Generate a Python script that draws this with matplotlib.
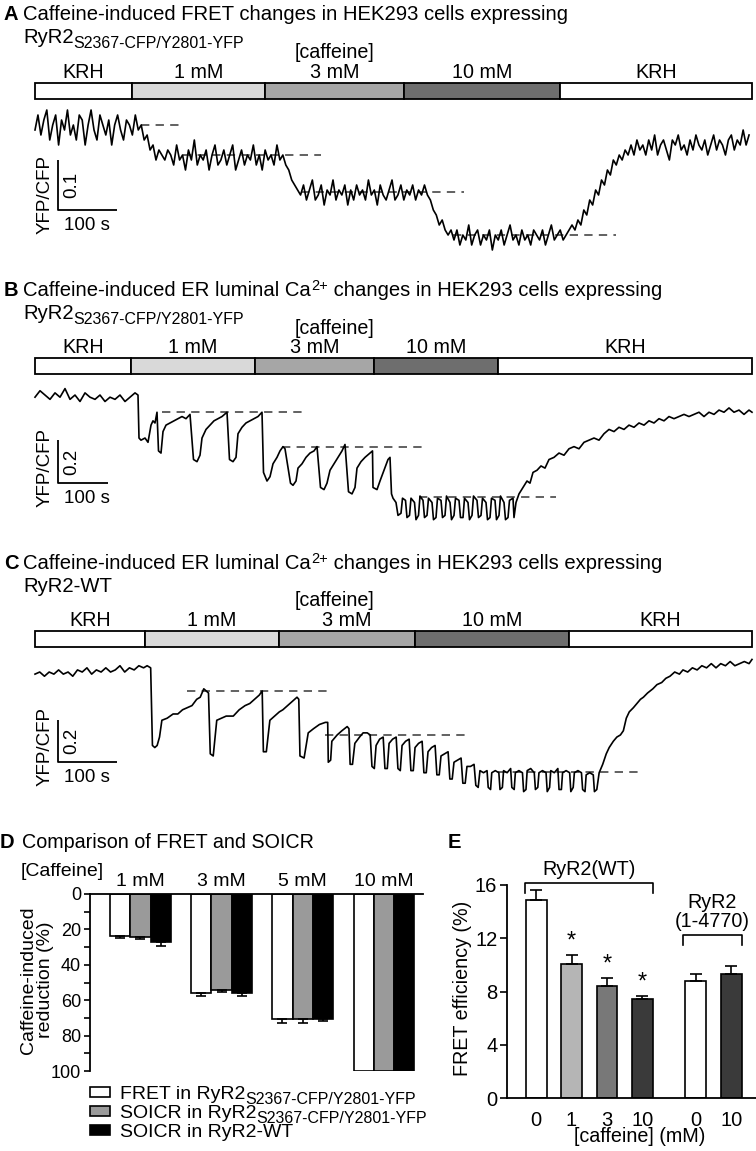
import numpy as np
import matplotlib
matplotlib.use("Agg")
import matplotlib.pyplot as plt
from matplotlib.patches import Rectangle

plt.rcParams["font.family"] = ["Liberation Sans", "DejaVu Sans"]
plt.rcParams["lines.scale_dashes"] = False

# ── Solution bars (time in s, boundaries of each solution) ───────────────
sol_labels = ["KRH", "1 mM", "3 mM", "10 mM", "KRH"]
sol_colors = ["white", "#d9d9d9", "#a6a6a6", "#6e6e6e", "white"]
a_edges = [0, 164, 390, 625, 890, 1215]
b_edges = [0, 192, 440, 678, 926, 1434]
c_edges = [0, 186, 414, 644, 905, 1215]

# ── Panel A: FRET trace (YFP/CFP, one point every 5 s) ──────────────────
A_STEP = 5
a_ratio = [
    # KRH
    1.49, 1.52, 1.48, 1.51, 1.53, 1.47, 1.50, 1.52, 1.46, 1.51, 1.49, 1.53,
    1.48, 1.50, 1.47, 1.52, 1.51, 1.46, 1.50, 1.53, 1.49, 1.47, 1.52, 1.50,
    1.48, 1.51, 1.46, 1.50, 1.52, 1.49, 1.47, 1.51, 1.50, 1.48, 1.52, 1.49,
    1.50, 1.47, 1.48, 1.45, 1.46, 1.43, 1.45, 1.44,
    # 1 mM
    1.43, 1.45, 1.44, 1.42, 1.46, 1.43, 1.44, 1.41, 1.45, 1.43, 1.47, 1.42,
    1.44, 1.43, 1.45, 1.41, 1.44, 1.46, 1.42, 1.43, 1.45, 1.42, 1.44, 1.46,
    1.41, 1.43, 1.45, 1.42, 1.44, 1.43, 1.46, 1.42, 1.44, 1.41, 1.45, 1.43,
    1.44, 1.42, 1.46, 1.43, 1.44, 1.42,
    1.41, 1.39, 1.38, 1.37,
    # 3 mM
    1.36, 1.38, 1.35, 1.37, 1.39, 1.35, 1.36, 1.38, 1.34, 1.37, 1.36, 1.39,
    1.35, 1.37, 1.36, 1.38, 1.34, 1.37, 1.35, 1.38, 1.36, 1.37, 1.35, 1.39,
    1.36, 1.37, 1.34, 1.38, 1.36, 1.35, 1.37, 1.39, 1.35, 1.36, 1.38, 1.35,
    1.37, 1.36, 1.38, 1.35, 1.37, 1.36, 1.38, 1.36,
    1.35, 1.33, 1.32, 1.30, 1.31, 1.29, 1.28, 1.29,
    # 10 mM
    1.27, 1.29, 1.26, 1.28, 1.27, 1.30, 1.26, 1.28, 1.29, 1.26, 1.28, 1.27,
    1.29, 1.25, 1.28, 1.27, 1.29, 1.26, 1.28, 1.30, 1.27, 1.28, 1.26, 1.29,
    1.27, 1.28, 1.26, 1.29, 1.28, 1.27, 1.29, 1.26, 1.28, 1.30, 1.27, 1.28,
    1.29, 1.27, 1.28, 1.29,
    # washout
    1.30, 1.29, 1.31, 1.30, 1.33, 1.32, 1.35, 1.34, 1.37, 1.36, 1.39, 1.38,
    1.41, 1.40, 1.43, 1.42, 1.44, 1.43, 1.45, 1.44, 1.46, 1.44, 1.47, 1.45,
    1.46, 1.44, 1.47, 1.45, 1.48, 1.44, 1.46, 1.47, 1.45, 1.43, 1.47, 1.46,
    1.48, 1.45, 1.46, 1.44, 1.47, 1.45, 1.48, 1.46, 1.45, 1.47, 1.44, 1.46,
    1.48, 1.45, 1.47, 1.46, 1.44, 1.47, 1.48, 1.45, 1.47, 1.46, 1.49, 1.46,
    1.48,
]
a_levels = [1.50, 1.44, 1.365, 1.28]
a_spans = [(180, 250), (250, 485), (450, 727), (708, 985)]

# ── Panel B: ER luminal Ca2+ trace, RyR2 S2367-CFP/Y2801-YFP ────────────
b_trace = [
    (0, 1.19), (10, 1.22), (20, 1.20), (30, 1.18), (40, 1.21), (50, 1.19),
    (60, 1.23), (70, 1.18), (80, 1.20), (90, 1.17), (100, 1.21), (110, 1.19),
    (120, 1.18), (130, 1.20), (140, 1.17), (150, 1.19), (160, 1.18),
    (170, 1.20), (180, 1.17), (190, 1.19), (200, 1.21), (206, 1.20),
    (208, 1.00), (212, 0.99), (220, 1.00), (226, 0.98), (232, 1.06),
    (236, 1.08), (240, 1.07), (244, 1.12),
    (247, 0.94), (252, 0.93), (256, 1.03), (262, 1.06), (270, 1.07),
    (278, 1.08), (286, 1.09), (294, 1.10), (302, 1.09), (310, 1.11),
    (317, 0.90), (324, 0.89), (330, 0.92), (334, 1.00), (342, 1.04),
    (350, 1.06), (358, 1.08), (366, 1.09), (374, 1.10), (384, 1.12),
    (389, 0.90), (396, 0.89), (402, 0.91), (406, 1.02), (414, 1.05),
    (422, 1.07), (430, 1.08), (438, 1.09), (446, 1.10), (454, 1.12),
    (457, 0.84), (464, 0.80), (470, 0.82), (476, 0.88), (484, 0.91),
    (490, 0.94), (496, 0.96), (500, 0.95),
    (511, 0.79), (516, 0.78), (522, 0.80), (526, 0.86), (534, 0.88),
    (542, 0.91), (550, 0.93), (558, 0.94), (564, 0.96),
    (571, 0.77), (578, 0.76), (584, 0.79), (590, 0.85), (598, 0.88),
    (606, 0.91), (614, 0.94), (620, 0.97),
    (627, 0.75), (634, 0.74), (640, 0.77), (644, 0.86), (652, 0.89),
    (660, 0.91), (670, 0.93), (675, 0.94),
    (676, 0.77), (684, 0.76), (690, 0.80), (698, 0.85), (706, 0.90),
    (710, 0.91),
    (713, 0.74), (716, 0.72), (722, 0.70), (726, 0.64), (732, 0.65),
    (735, 0.72), (741, 0.71), (744, 0.63), (749, 0.64), (752, 0.72),
    (759, 0.70), (762, 0.62), (767, 0.64), (770, 0.73), (776, 0.71),
    (779, 0.63), (784, 0.64), (787, 0.72), (794, 0.70), (797, 0.62),
    (802, 0.63), (805, 0.72), (812, 0.71), (815, 0.63), (820, 0.64),
    (823, 0.73), (830, 0.70), (833, 0.62), (838, 0.64), (841, 0.72),
    (848, 0.71), (851, 0.63), (856, 0.63), (859, 0.72), (866, 0.70),
    (869, 0.62), (874, 0.64), (877, 0.73), (884, 0.71), (887, 0.63),
    (892, 0.64), (895, 0.72), (902, 0.70), (905, 0.62), (910, 0.63),
    (913, 0.72), (920, 0.71), (923, 0.62), (928, 0.64), (931, 0.73),
    (938, 0.70), (941, 0.62), (946, 0.63), (949, 0.71), (956, 0.72),
    (958, 0.63), (962, 0.70),
    (968, 0.74), (976, 0.77), (984, 0.80), (990, 0.79), (996, 0.84),
    (1004, 0.85), (1012, 0.87), (1020, 0.86), (1028, 0.90), (1038, 0.91),
    (1048, 0.93), (1058, 0.92), (1068, 0.95), (1078, 0.96), (1088, 0.95),
    (1098, 0.98), (1108, 0.99), (1118, 1.00), (1128, 0.99), (1138, 1.02),
    (1148, 1.04), (1158, 1.03), (1168, 1.05), (1178, 1.04), (1188, 1.06),
    (1198, 1.05), (1208, 1.07), (1218, 1.06), (1228, 1.08), (1238, 1.07),
    (1248, 1.09), (1258, 1.08), (1268, 1.10), (1278, 1.09), (1288, 1.10),
    (1298, 1.11), (1308, 1.10), (1318, 1.11), (1328, 1.12), (1338, 1.10),
    (1348, 1.12), (1358, 1.11), (1368, 1.13), (1378, 1.12), (1388, 1.14),
    (1398, 1.12), (1408, 1.13), (1418, 1.11), (1428, 1.13), (1434, 1.12),
]
b_levels = [1.12, 0.958, 0.726]
b_spans = [(254, 536), (494, 776), (768, 1042)]

# ── Panel C: ER luminal Ca2+ trace, RyR2-WT ─────────────────────────────
c_trace = [
    (0, 1.29), (8, 1.30), (16, 1.28), (24, 1.30), (32, 1.29), (40, 1.31),
    (48, 1.29), (56, 1.30), (64, 1.28), (72, 1.31), (80, 1.30), (88, 1.32),
    (96, 1.29), (104, 1.31), (112, 1.30), (120, 1.32), (128, 1.30),
    (136, 1.31), (144, 1.33), (152, 1.30), (160, 1.32), (168, 1.31),
    (176, 1.33), (184, 1.32), (190, 1.33), (196, 1.32),
    (199, 0.95), (203, 0.94), (207, 0.95), (211, 0.99), (215, 1.07),
    (224, 1.08), (234, 1.10), (242, 1.10), (250, 1.12), (258, 1.13),
    (266, 1.14), (274, 1.17), (280, 1.18), (286, 1.22), (290, 1.21),
    (294, 1.20),
    (297, 0.91), (302, 0.90), (308, 1.07), (316, 1.08), (324, 1.09),
    (336, 1.09), (346, 1.12), (356, 1.14), (364, 1.15), (372, 1.17),
    (380, 1.19), (385, 1.21),
    (387, 0.92), (392, 0.92), (398, 1.07), (406, 1.09), (414, 1.11),
    (420, 1.12), (428, 1.14), (436, 1.16), (444, 1.18), (447, 1.17),
    (449, 0.90), (456, 0.89), (463, 1.01), (472, 1.03), (482, 1.05),
    (492, 1.06), (496, 1.06),
    (497, 0.87), (501, 0.88), (503, 0.97), (512, 1.00), (520, 1.02),
    (529, 1.04), (532, 1.03),
    (534, 0.86), (538, 0.86), (542, 0.96), (550, 0.99), (556, 1.01),
    (563, 1.01), (568, 1.00),
    (571, 0.85), (575, 0.84), (578, 0.95), (584, 0.98), (590, 0.99),
    (593, 0.84), (597, 0.84), (600, 0.96), (606, 0.98), (612, 0.99),
    (615, 0.84), (619, 0.83), (622, 0.95), (628, 0.97), (634, 0.98),
    (637, 0.83), (641, 0.83), (644, 0.94), (650, 0.96), (656, 0.97),
    (659, 0.82), (663, 0.82), (666, 0.92), (672, 0.94), (678, 0.95),
    (681, 0.81), (685, 0.81), (688, 0.90), (694, 0.91), (700, 0.92),
    (703, 0.79), (707, 0.79), (710, 0.87), (716, 0.88), (722, 0.89),
    (725, 0.77), (729, 0.77), (732, 0.85), (738, 0.85), (744, 0.86),
    (747, 0.76), (751, 0.75),
    (754, 0.83), (760, 0.82), (766, 0.83), (768, 0.75), (772, 0.74),
    (774, 0.82), (780, 0.83), (786, 0.82), (788, 0.74), (792, 0.75),
    (794, 0.83), (800, 0.82), (806, 0.84), (808, 0.75), (812, 0.74),
    (814, 0.82), (820, 0.83), (826, 0.82), (828, 0.73), (832, 0.74),
    (834, 0.83), (840, 0.84), (846, 0.82), (848, 0.74), (852, 0.75),
    (854, 0.82), (860, 0.83), (866, 0.82), (868, 0.73), (872, 0.75),
    (874, 0.83), (880, 0.82), (886, 0.84), (888, 0.74), (892, 0.74),
    (894, 0.82), (900, 0.83), (906, 0.82), (908, 0.73), (912, 0.75),
    (914, 0.82), (920, 0.83), (926, 0.82), (928, 0.74), (932, 0.73),
    (934, 0.81), (940, 0.82), (946, 0.81), (948, 0.73), (952, 0.74),
    (956, 0.82),
    (962, 0.86), (968, 0.91), (973, 0.94), (980, 0.97), (986, 0.99),
    (992, 1.00), (997, 1.02), (1002, 1.08), (1007, 1.11), (1014, 1.13),
    (1020, 1.15), (1026, 1.17), (1031, 1.18), (1038, 1.20), (1047, 1.22),
    (1054, 1.24), (1062, 1.25), (1069, 1.27), (1076, 1.28), (1084, 1.30),
    (1092, 1.29), (1098, 1.31), (1106, 1.30), (1114, 1.32), (1122, 1.31),
    (1130, 1.33), (1138, 1.32), (1146, 1.34), (1154, 1.32), (1162, 1.34),
    (1170, 1.33), (1178, 1.35), (1186, 1.33), (1194, 1.34), (1202, 1.35),
    (1210, 1.34), (1215, 1.36),
]
c_levels = [1.21, 1.00, 0.824]
c_spans = [(258, 497), (492, 734), (785, 1024)]

# ── Panel D: caffeine-induced reduction (%) ─────────────────────────────
d_conc = ["1 mM", "3 mM", "5 mM", "10 mM"]
d_fret = [23.5, 55.7, 70.5, 100]
d_fret_err = [1.2, 2.0, 2.3, 0]
d_soicr_mut = [24.4, 54.3, 70.9, 100]
d_soicr_mut_err = [0.9, 0.9, 1.9, 0]
d_soicr_wt = [27.4, 55.8, 70.5, 100]
d_soicr_wt_err = [1.7, 1.9, 1.3, 0]
d_colors = ["white", "#9a9a9a", "black"]

# ── Panel E: FRET efficiency (%) ────────────────────────────────────────
e_labels = ["0", "1", "3", "10", "0", "10"]
e_pos = [0, 1, 2, 3, 4.5, 5.5]
e_vals = [14.9, 10.1, 8.4, 7.4, 8.8, 9.3]
e_err = [0.7, 0.65, 0.6, 0.25, 0.55, 0.6]
e_colors = ["white", "#b5b5b5", "#787878", "#3a3a3a", "white", "#3a3a3a"]
e_star = [False, True, True, True, False, False]

W, H = 756, 1151
fig = plt.figure(figsize=(W / 100, H / 100), dpi=100)
renderer = fig.canvas.get_renderer()
SUB = "S2367-CFP/Y2801-YFP"
TITLE_FS = 14.6


def px_axes(x0, y0, x1, y1):
    return fig.add_axes([x0 / W, 1 - y1 / H, (x1 - x0) / W, (y1 - y0) / H])


def ftext(x, y, s, **kw):
    return fig.text(x / W, 1 - y / H, s, **kw)


def rich_text(x, y, parts):
    # parts: (text, fontsize, drop in px below the baseline y)
    for s, size, drop in parts:
        t = ftext(x, y + drop, s, fontsize=size, va="baseline", ha="left")
        x += t.get_window_extent(renderer=renderer).width


def solution_bar(y0, y1, tmax, edges):
    ax = px_axes(35, y0, 752, y1)
    ax.set_xlim(0, tmax)
    ax.set_ylim(0, 1)
    ax.axis("off")
    for a, b, col, lab in zip(edges[:-1], edges[1:], sol_colors, sol_labels):
        ax.add_patch(Rectangle((a, 0), b - a, 1, facecolor=col, edgecolor="black",
                               lw=1.3, clip_on=False))
        ax.annotate(lab, xy=((a + b) / 2, 1), xycoords=("data", "axes fraction"),
                    xytext=(0, 7.5), textcoords="offset points",
                    ha="center", va="center", fontsize=14.2)
    ftext(335, y0 - 30, "[caffeine]", fontsize=14.2, ha="center", va="center")


def trace_panel(y0, y1, tmax, ylim, t, v, levels, spans, t0, v0, dv, vlab):
    ax = px_axes(35, y0, 752, y1)
    ax.set_xlim(0, tmax)
    ax.set_ylim(*ylim)
    ax.axis("off")
    for lev, (s, e) in zip(levels, spans):
        ax.plot([s, e], [lev, lev], color="#555555", lw=1.3, ls=(0, (6, 4.5)))
    ax.plot(t, v, color="black", lw=1.2, clip_on=False)
    # scale bar
    ax.plot([t0, t0, t0 + 100], [v0 + dv, v0, v0], color="black", lw=1.3,
            clip_on=False, solid_capstyle="butt")
    ax.annotate(vlab, xy=(t0, v0 + dv / 2), xytext=(10, 0), textcoords="offset points",
                rotation=90, ha="center", va="center", fontsize=13.5)
    ax.annotate("YFP/CFP", xy=(t0, v0), xytext=(-9.5, 11), textcoords="offset points",
                rotation=90, ha="center", va="center", fontsize=13.5)
    ax.annotate("100 s", xy=(t0, v0), xytext=(21, -11), textcoords="offset points",
                ha="center", va="center", fontsize=13.5)
    return ax


# ── Panel A ─────────────────────────────────────────────────────────────
ftext(4, 20, "A", fontsize=14.5, weight="bold", va="baseline")
ftext(23, 20, "Caffeine-induced FRET changes in HEK293 cells expressing",
      fontsize=TITLE_FS, va="baseline")
rich_text(23, 43, [("RyR2", TITLE_FS, 0), (SUB, 11.5, 5)])
solution_bar(83, 99, 1215, a_edges)
a_time = np.arange(len(a_ratio)) * A_STEP
trace_panel(105, 245, 1215, (1.26, 1.54), a_time, a_ratio, a_levels, a_spans,
            39, 1.33, 0.1, "0.1")

# ── Panel B ─────────────────────────────────────────────────────────────
ftext(4, 296, "B", fontsize=14.5, weight="bold", va="baseline")
rich_text(23, 296, [("Caffeine-induced ER luminal Ca", TITLE_FS, 0), ("2+", 10.5, -6),
                    (" changes in HEK293 cells expressing", TITLE_FS, 0)])
rich_text(23, 319, [("RyR2", TITLE_FS, 0), (SUB, 11.5, 5)])
solution_bar(358, 374, 1434, b_edges)
b_t, b_v = zip(*b_trace)
trace_panel(380, 530, 1434, (0.572, 1.27), b_t, b_v, b_levels, b_spans,
            46, 0.791, 0.2, "0.2")

# ── Panel C ─────────────────────────────────────────────────────────────
ftext(4, 569, "C", fontsize=14.5, weight="bold", va="baseline")
rich_text(23, 569, [("Caffeine-induced ER luminal Ca", TITLE_FS, 0), ("2+", 10.5, -6),
                    (" changes in HEK293 cells expressing", TITLE_FS, 0)])
ftext(23, 592, "RyR2-WT", fontsize=TITLE_FS, va="baseline")
solution_bar(631, 647, 1215, c_edges)
c_t, c_v = zip(*c_trace)
trace_panel(650, 800, 1215, (0.69, 1.405), c_t, c_v, c_levels, c_spans,
            39, 0.871, 0.2, "0.2")

# ── Panel D ─────────────────────────────────────────────────────────────
ftext(0, 843, "D", fontsize=14.5, weight="bold", va="center")
ftext(22, 843, "Comparison of FRET and SOICR", fontsize=14.2, va="center")
ftext(21, 872, "[Caffeine]", fontsize=14, va="center")
ftext(37, 980, "Caffeine-induced\nreduction (%)", fontsize=14, rotation=90,
      ha="center", va="center", linespacing=1.0)

axd = px_axes(90, 894, 423, 1071)
xd = np.arange(len(d_conc))
series = [(d_fret, d_fret_err), (d_soicr_mut, d_soicr_mut_err), (d_soicr_wt, d_soicr_wt_err)]
for off, (vals, errs), col in zip([-0.25, 0, 0.25], series, d_colors):
    axd.bar(xd + off, vals, width=0.25, color=col, edgecolor="black", lw=1.2, zorder=2)
    errs = np.array(errs)
    keep = errs > 0
    axd.errorbar((xd + off)[keep], np.array(vals)[keep],
                 yerr=[np.zeros(keep.sum()), errs[keep]], fmt="none",
                 ecolor="black", elinewidth=1.2, capsize=3.5, capthick=1.2, zorder=3)
for i, lab in enumerate(d_conc):
    axd.annotate(lab, xy=(xd[i], 0), xytext=(0, 9), textcoords="offset points",
                 ha="center", va="center", fontsize=14, annotation_clip=False)
axd.set_xlim(-0.62, 3.48)
axd.set_ylim(100, 0)
axd.set_yticks(np.arange(0, 101, 20))
axd.set_yticks(np.arange(10, 100, 20), minor=True)
axd.set_xticks([])
axd.tick_params(axis="y", which="both", direction="out", length=4.5, width=1.2,
                labelsize=13, pad=2)
for side in ["right", "bottom"]:
    axd.spines[side].set_visible(False)
for side in ["left", "top"]:
    axd.spines[side].set_linewidth(1.3)
axd.patch.set_alpha(0)

legend_rows = [
    ([("FRET in RyR2", 14, 0), (SUB, 11.5, 5)], d_colors[0]),
    ([("SOICR in RyR2", 14, 0), (SUB, 11.5, 5)], d_colors[1]),
    ([("SOICR in RyR2-WT", 14, 0)], d_colors[2]),
]
for i, (parts, col) in enumerate(legend_rows):
    yc = 1092 + 19 * i
    fig.patches.append(Rectangle((90 / W, 1 - (yc + 5) / H), 20 / W, 10 / H,
                                 transform=fig.transFigure, facecolor=col,
                                 edgecolor="black", lw=1.2))
    rich_text(120, yc + 7, parts)

# ── Panel E ─────────────────────────────────────────────────────────────
ftext(448, 843, "E", fontsize=14.5, weight="bold", va="center")
axe = px_axes(507, 885, 756, 1098)
axe.bar(e_pos, e_vals, width=0.59, color=e_colors, edgecolor="black", lw=1.2, zorder=2)
axe.errorbar(e_pos, e_vals, yerr=[np.zeros(len(e_err)), e_err], fmt="none",
             ecolor="black", elinewidth=1.2, capsize=4, capthick=1.2, zorder=3)
for p, v, er, st in zip(e_pos, e_vals, e_err, e_star):
    if st:
        axe.annotate("*", xy=(p, v + er), xytext=(0, 2), textcoords="offset points",
                     ha="center", va="bottom", fontsize=17)
axe.set_xlim(-0.82, 6.2)
axe.set_ylim(0, 16)
axe.set_yticks([0, 4, 8, 12, 16])
axe.set_xticks(e_pos)
axe.set_xticklabels(e_labels)
axe.tick_params(axis="y", direction="out", length=5, width=1.2, labelsize=14.5, pad=2)
axe.tick_params(axis="x", length=0, labelsize=14.5, pad=9)
for side in ["right", "top"]:
    axe.spines[side].set_visible(False)
for side in ["left", "bottom"]:
    axe.spines[side].set_linewidth(1.3)
axe.patch.set_alpha(0)

# group brackets
brackets = [(-0.31, 3.3, 16.17, 15.4, ["RyR2(WT)"]),
            (4.14, 5.8, 12.26, 11.5, ["RyR2", "(1-4770)"])]
for x0, x1, ytop, ybot, lines in brackets:
    axe.plot([x0, x0, x1, x1], [ybot, ytop, ytop, ybot], color="black", lw=1.2,
             clip_on=False)
    axe.annotate("\n".join(lines), xy=((x0 + x1) / 2, ytop), xytext=(0, 3),
                 textcoords="offset points", ha="center", va="bottom",
                 fontsize=14.2, linespacing=0.95, annotation_clip=False)
ftext(463, 988, "FRET efficiency (%)", fontsize=14.2, rotation=90,
      ha="center", va="center")
ftext(640, 1137, "[caffeine] (mM)", fontsize=14.2, ha="center", va="center")

fig.savefig("out.png", dpi=100)
